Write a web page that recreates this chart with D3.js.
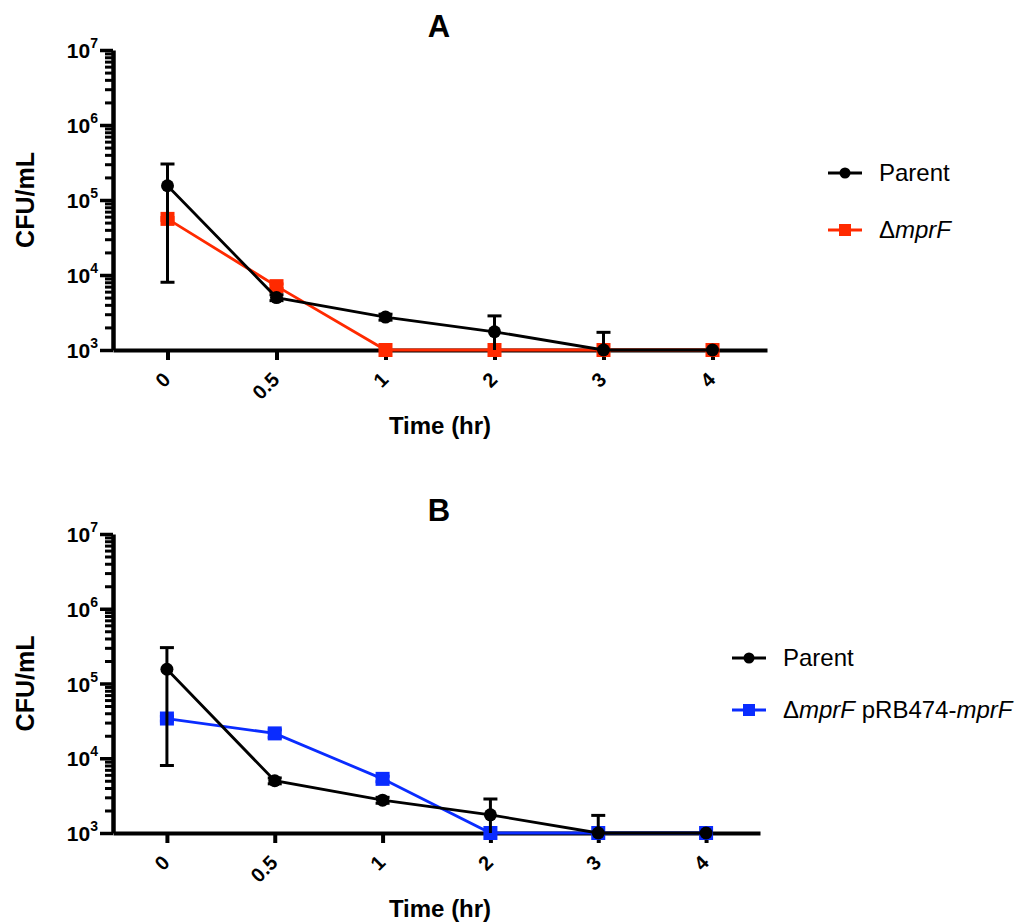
<!DOCTYPE html>
<html>
<head>
<meta charset="utf-8">
<script src="https://cdn.jsdelivr.net/npm/d3@7"></script>
<style>
  body { margin: 0; background: #fff; }
  svg { font-family: "Liberation Sans", Arial, Helvetica, sans-serif; }
</style>
</head>
<body>
<svg id="chart" width="1021" height="923"></svg>
<script>
// time points (categorical axis)
const times = ["0", "0.5", "1", "2", "3", "4"];

// CFU/mL, mean and SD
const parentMean = [155000, 5000, 2750, 1750, 1000, 1000];
const parentSD   = [147000, 450, 250, 1100, 720, 0];

const mprfMean = [56000, 7100, 1000, 1000, 1000, 1000];
const mprfSD   = [2500, 500, 0, 0, 0, 0];

const compMean = [34000, 21500, 5300, 1000, 1000, 1000];
const compSD   = [2500, 2500, 450, 0, 0, 0];

const yMajor = [1e3, 1e4, 1e5, 1e6, 1e7];
const yExp = ["3", "4", "5", "6", "7"];

const black = "#000", red = "#ff2a00", blue = "#0a2cff";

const svg = d3.select("#chart");

const panels = [
  { title: "A", top: 50, bottom: 350, left: 113, right: 767,
    series: [
      { name: [["Δ", false], ["mprF", true]], mean: mprfMean, sd: mprfSD, color: red, shape: "square" },
      { name: [["Parent", false]], mean: parentMean, sd: parentSD, color: black, shape: "circle" }
    ],
    legendX: 828, legendY: 173, legendGap: 57 },
  { title: "B", top: 534, bottom: 833, left: 113, right: 760,
    series: [
      { name: [["Δ", false], ["mprF", true], [" pRB474-", false], ["mprF", true]], mean: compMean, sd: compSD, color: blue, shape: "square" },
      { name: [["Parent", false]], mean: parentMean, sd: parentSD, color: black, shape: "circle" }
    ],
    legendX: 732, legendY: 658, legendGap: 52 }
];

panels.forEach(function(p) {
  const g = svg.append("g");

  const x = d3.scalePoint().domain(times).range([p.left, p.right]).padding(0.5);
  const y = d3.scaleLog().domain([1e3, 1e7]).range([p.bottom, p.top]);

  // title
  g.append("text")
    .attr("x", 439).attr("y", p.top - 13)
    .attr("text-anchor", "middle")
    .attr("font-size", 31).attr("font-weight", "bold")
    .text(p.title);

  // minor y ticks
  let minor = [];
  for (let k = 3; k < 7; k++) for (let m = 2; m <= 9; m++) minor.push(m * Math.pow(10, k));

  g.append("g")
    .attr("transform", "translate(" + p.left + ",0)")
    .call(d3.axisLeft(y).tickValues(minor).tickSize(8).tickFormat(""))
    .call(a => a.select(".domain").remove())
    .selectAll("line").attr("stroke-width", 3);

  const yAxis = g.append("g")
    .attr("transform", "translate(" + p.left + ",0)")
    .call(d3.axisLeft(y).tickValues(yMajor).tickSize(13).tickSizeOuter(0).tickFormat(""));
  yAxis.select(".domain").attr("stroke-width", 4.5);
  yAxis.selectAll("line").attr("stroke-width", 3.5);

  const ylab = g.append("g").selectAll("text")
    .data(yMajor)
    .enter().append("text")
      .attr("x", p.left - 15)
      .attr("y", d => y(d) + 8)
      .attr("text-anchor", "end")
      .attr("font-size", 21).attr("font-weight", "bold");
  ylab.append("tspan").text("10");
  ylab.append("tspan").attr("font-size", 14).attr("dy", -10).text((d, i) => yExp[i]);

  // x axis
  const xAxis = g.append("g")
    .attr("transform", "translate(0," + p.bottom + ")")
    .call(d3.axisBottom(x).tickSize(10).tickSizeOuter(0).tickFormat(""));
  xAxis.select(".domain").attr("stroke-width", 4);
  xAxis.selectAll("line").attr("stroke-width", 4);

  g.append("g").selectAll("text")
    .data(times)
    .enter().append("text")
      .attr("transform", d => "translate(" + (x(d) + 4) + "," + (p.bottom + 31) + ") rotate(-45)")
      .attr("text-anchor", "end")
      .attr("font-size", 20).attr("font-weight", "bold")
      .text(d => d);

  // axis titles
  g.append("text")
    .attr("transform", "translate(34," + ((p.top + p.bottom) / 2) + ") rotate(-90)")
    .attr("text-anchor", "middle")
    .attr("font-size", 25).attr("font-weight", "bold")
    .text("CFU/mL");

  g.append("text")
    .attr("x", 440).attr("y", p.bottom + 84)
    .attr("text-anchor", "middle")
    .attr("font-size", 24).attr("font-weight", "bold")
    .text("Time (hr)");

  const line = d3.line().x((d, i) => x(times[i])).y(d => y(d));

  p.series.forEach(function(s) {
    const sg = g.append("g");
    sg.append("path")
      .datum(s.mean)
      .attr("fill", "none")
      .attr("stroke", s.color)
      .attr("stroke-width", 2.8)
      .attr("d", line);

    // error bars (mean +/- SD, clipped at axis minimum)
    s.mean.forEach(function(m, i) {
      const sd = s.sd[i];
      if (!sd) return;
      const cx = x(times[i]);
      const hi = m + sd;
      const lo = Math.max(m - sd, 1e3);
      sg.append("line")
        .attr("x1", cx).attr("x2", cx)
        .attr("y1", y(hi)).attr("y2", y(lo))
        .attr("stroke", s.color).attr("stroke-width", 3);
      sg.append("line")
        .attr("x1", cx - 7).attr("x2", cx + 7)
        .attr("y1", y(hi)).attr("y2", y(hi))
        .attr("stroke", s.color).attr("stroke-width", 3);
      if (m - sd > 1e3) {
        sg.append("line")
          .attr("x1", cx - 7).attr("x2", cx + 7)
          .attr("y1", y(lo)).attr("y2", y(lo))
          .attr("stroke", s.color).attr("stroke-width", 3);
      }
    });

    if (s.shape === "circle") {
      sg.selectAll("circle").data(s.mean).enter().append("circle")
        .attr("cx", (d, i) => x(times[i]))
        .attr("cy", d => y(d))
        .attr("r", 6.5)
        .attr("fill", s.color);
    } else {
      sg.selectAll("rect").data(s.mean).enter().append("rect")
        .attr("x", (d, i) => x(times[i]) - 7)
        .attr("y", d => y(d) - 7)
        .attr("width", 14).attr("height", 14)
        .attr("fill", s.color);
    }
  });

  // legend (Parent first)
  const legendSeries = p.series.slice().reverse();
  const lg = g.append("g").selectAll("g")
    .data(legendSeries)
    .enter().append("g")
      .attr("transform", (d, i) => "translate(" + p.legendX + "," + (p.legendY + i * p.legendGap) + ")");

  lg.append("line")
    .attr("x1", 0).attr("x2", 34)
    .attr("stroke", d => d.color).attr("stroke-width", 2.8);
  lg.each(function(d) {
    const el = d3.select(this);
    if (d.shape === "circle") {
      el.append("circle").attr("cx", 17).attr("r", 5.5).attr("fill", d.color);
    } else {
      el.append("rect").attr("x", 11).attr("y", -6).attr("width", 12).attr("height", 12).attr("fill", d.color);
    }
    const t = el.append("text").attr("x", 51).attr("y", 8).attr("font-size", 24);
    d.name.forEach(function(part) {
      t.append("tspan").attr("font-style", part[1] ? "italic" : "normal").text(part[0]);
    });
  });
});
</script>
</body>
</html>
